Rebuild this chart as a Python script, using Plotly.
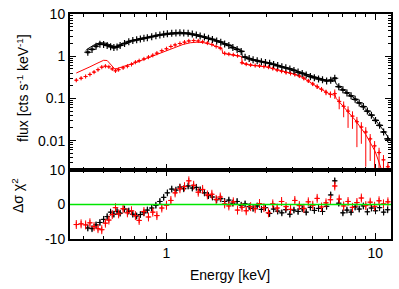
import plotly.graph_objects as go
from plotly.subplots import make_subplots

# ---------------- data ----------------
black_E = [0.42, 0.44, 0.46, 0.48, 0.50, 0.52, 0.54, 0.56, 0.58, 0.60,
           0.63, 0.66, 0.69, 0.72, 0.75, 0.78, 0.81, 0.85, 0.89, 0.93,
           0.97, 1.01, 1.06, 1.11, 1.16, 1.21, 1.27, 1.33, 1.39, 1.45,
           1.52, 1.59, 1.66, 1.74, 1.82, 1.90, 1.99, 2.08, 2.18, 2.28,
           2.38, 2.49, 2.60, 2.72, 2.85, 2.98, 3.12, 3.26, 3.41, 3.57,
           3.73, 3.90, 4.08, 4.27, 4.47, 4.67, 4.89, 5.11, 5.35, 5.59,
           5.85, 6.12, 6.40, 6.69, 7.00, 7.32, 7.66, 8.01, 8.38, 8.77,
           9.17, 9.59, 10.03, 10.49, 10.97, 11.47]
black_flux = [1.24, 1.45, 1.72, 1.93, 1.90, 1.80, 1.68, 1.60, 1.66, 1.80,
              2.00, 2.20, 2.35, 2.45, 2.55, 2.65, 2.75, 2.90, 3.05, 3.20,
              3.30, 3.40, 3.50, 3.55, 3.60, 3.55, 3.50, 3.35, 3.20, 3.00,
              2.85, 2.65, 2.50, 2.30, 2.15, 1.95, 1.80, 1.60, 1.45, 1.30,
              0.95, 0.88, 0.82, 0.78, 0.74, 0.71, 0.68, 0.64, 0.60, 0.56,
              0.53, 0.50, 0.46, 0.42, 0.39, 0.36, 0.33, 0.31, 0.29, 0.275,
              0.26, 0.27, 0.30, 0.19, 0.16, 0.135, 0.115, 0.095, 0.078, 0.064,
              0.050, 0.040, 0.030, 0.023, 0.016, 0.011]
black_resid = [-6.8, -7.0, -5.9, -5.2, -4.3, -3.5, -2.2, -2.8, -2.0, -2.5,
               -1.3, -1.9, -2.8, -3.3, -2.9, -2.4, -1.6, -1.0, -0.2, 0.9,
               2.1, 3.4, 4.5, 4.2, 5.1, 4.6, 5.4, 4.8, 5.0, 4.3,
               3.4, 2.6, 2.2, 1.4, 1.7, 0.9, 1.3, 0.4, 0.9, -0.2,
               0.2, -0.6, -1.1, -0.4, -1.4, -0.9, -2.6, -1.3, -1.9, -2.4,
               -1.5, -2.8, -1.6, -2.0, -1.2, -2.2, -0.8, -1.7, -1.1, -2.0,
               -0.5, 2.8, 6.9, 0.4, -2.4, -1.6, -2.2, -0.7, -1.3, -0.4,
               -2.1, -1.0, -1.8, -0.9, -2.2, -1.5]

red_E = [0.37, 0.39, 0.41, 0.43, 0.45, 0.47, 0.49, 0.51, 0.53, 0.55,
         0.57, 0.59, 0.62, 0.65, 0.68, 0.71, 0.74, 0.78, 0.82, 0.86,
         0.90, 0.95, 1.00, 1.05, 1.10, 1.16, 1.22, 1.28, 1.35, 1.42,
         1.49, 1.57, 1.65, 1.73, 1.81, 1.90, 1.99, 2.09, 2.19, 2.30,
         2.41, 2.53, 2.66, 2.79, 2.93, 3.08, 3.23, 3.39, 3.56, 3.74,
         3.93, 4.12, 4.33, 4.55, 4.78, 5.02, 5.27, 5.53, 5.81, 6.10,
         6.40, 6.72, 7.06, 7.41, 7.78, 8.17, 8.58, 9.01, 9.46, 9.93,
         10.43, 10.95, 11.50]
red_flux = [0.27, 0.30, 0.33, 0.37, 0.42, 0.48, 0.55, 0.58, 0.56, 0.50,
            0.45, 0.48, 0.53, 0.58, 0.64, 0.72, 0.78, 0.86, 0.95, 1.05,
            1.18, 1.35, 1.50, 1.70, 1.85, 2.00, 2.15, 2.30, 2.35, 2.30,
            2.20, 2.05, 1.90, 1.70, 1.55, 1.17, 1.12, 1.08, 1.03, 0.70,
            0.65, 0.62, 0.60, 0.59, 0.57, 0.55, 0.51, 0.47, 0.44, 0.41,
            0.39, 0.37, 0.34, 0.30, 0.26, 0.22, 0.19, 0.165, 0.14, 0.125,
            0.13, 0.085, 0.065, 0.050, 0.038, 0.028, 0.021, 0.016, 0.011, 0.0075,
            0.0052, 0.0035, 0.0024]
red_err_frac = [0.06, 0.06, 0.05, 0.05, 0.05, 0.05, 0.04, 0.04, 0.04, 0.05,
                0.05, 0.05, 0.04, 0.04, 0.04, 0.04, 0.04, 0.04, 0.04, 0.04,
                0.04, 0.04, 0.04, 0.04, 0.04, 0.04, 0.04, 0.04, 0.04, 0.04,
                0.04, 0.04, 0.04, 0.04, 0.04, 0.05, 0.05, 0.05, 0.05, 0.06,
                0.06, 0.06, 0.06, 0.06, 0.06, 0.07, 0.07, 0.07, 0.08, 0.08,
                0.08, 0.09, 0.09, 0.10, 0.10, 0.11, 0.12, 0.13, 0.15, 0.17,
                0.25, 0.35, 0.45, 0.60, 0.50, 0.75, 0.60, 0.85, 0.70, 0.90,
                0.80, 0.92, 0.95]
red_resid = [-5.8, -5.6, -5.9, -5.3, -6.4, -7.0, -7.3, -5.4, -4.5, -2.9,
             -0.9, -2.7, -1.2, -2.4, -1.8, -3.2, -4.6, -2.0, -3.6, -2.2,
             -3.2, -1.0, -0.2, 1.2, 3.4, 4.6, 5.2, 6.9, 5.6, 3.6,
             4.4, 2.8, 3.0, 1.5, 2.2, 0.2, -0.4, 0.8, -1.6, -0.8,
             -1.8, -0.6, -1.2, 0.3, -0.9, -2.4, 0.2, -1.0, 0.9, -0.6,
             -1.4, 1.2, -0.3, -1.1, 0.8, -0.2, 1.8, -0.7, 0.5, 1.4,
             5.4, 1.6, -0.4, 0.9, -0.8, 0.6, 1.9, -0.3, 0.7, -0.5,
             1.1, 0.2, 0.8]

black_model_E = [0.41, 0.42, 0.45, 0.48, 0.51, 0.54, 0.56, 0.58, 0.62, 0.68,
                 0.75, 0.85, 0.95, 1.05, 1.15, 1.25, 1.35, 1.45, 1.60, 1.75,
                 1.84, 1.86, 2.00, 2.20, 2.29, 2.31, 2.50, 3.00, 3.50, 4.00,
                 4.50, 5.00, 5.50, 6.00, 6.30, 6.40, 6.50, 7.00, 8.00, 9.00,
                 10.0, 11.0, 11.9]
black_model_flux = [1.35, 1.50, 1.85, 2.10, 2.05, 1.85, 1.72, 1.72, 1.95, 2.35,
                    2.65, 2.95, 3.15, 3.30, 3.40, 3.35, 3.20, 2.95, 2.60, 2.30,
                    2.15, 2.00, 1.80, 1.48, 1.33, 0.98, 0.89, 0.72, 0.59, 0.49,
                    0.40, 0.34, 0.29, 0.26, 0.25, 0.28, 0.22, 0.165, 0.098, 0.056,
                    0.031, 0.017, 0.0095]

red_model_E = [0.37, 0.40, 0.43, 0.46, 0.50, 0.52, 0.545, 0.565, 0.58, 0.62,
               0.70, 0.80, 0.90, 1.00, 1.10, 1.20, 1.30, 1.40, 1.50, 1.60,
               1.70, 1.84, 1.86, 2.00, 2.20, 2.29, 2.31, 2.50, 3.00, 3.50,
               4.00, 4.50, 5.00, 5.50, 6.00, 6.30, 6.40, 6.50, 7.00, 8.00,
               9.00, 10.0, 10.7]
red_model_flux = [0.40, 0.47, 0.56, 0.66, 0.80, 0.79, 0.62, 0.50, 0.51, 0.56,
                  0.69, 0.88, 1.10, 1.38, 1.65, 1.90, 2.08, 2.15, 2.10, 1.96,
                  1.76, 1.55, 1.17, 1.10, 1.02, 0.98, 0.68, 0.62, 0.56, 0.46,
                  0.39, 0.31, 0.22, 0.165, 0.13, 0.12, 0.125, 0.10, 0.066, 0.031,
                  0.014, 0.0055, 0.0021]

flux_ticks = [0.01, 0.1, 1, 10]
flux_tick_labels = ["0.01", "0.1", "1", "10"]
flux_minor = [0.002, 0.003, 0.004, 0.005, 0.006, 0.007, 0.008, 0.009,
              0.02, 0.03, 0.04, 0.05, 0.06, 0.07, 0.08, 0.09,
              0.2, 0.3, 0.4, 0.5, 0.6, 0.7, 0.8, 0.9,
              2, 3, 4, 5, 6, 7, 8, 9]
resid_ticks = [-10, 0, 10]
resid_tick_labels = ["-10", "0", "10"]
energy_ticks = [1, 10]
energy_tick_labels = ["1", "10"]
energy_minor = [0.4, 0.5, 0.6, 0.7, 0.8, 0.9, 2, 3, 4, 5, 6, 7, 8, 9]

# ---------------- figure ----------------
RED = "#ff0000"
BLK = "#000000"
FONT = "Liberation Sans, Arial, Helvetica, sans-serif"

fig = make_subplots(rows=2, cols=1, shared_xaxes=True, vertical_spacing=0,
                    row_heights=[0.694, 0.306])

red_hi = [f * min(e, 0.3) for f, e in zip(red_flux, red_err_frac)]
red_lo = [f * e for f, e in zip(red_flux, red_err_frac)]

# top panel: red data + model
fig.add_trace(go.Scatter(x=red_E, y=red_flux, mode="markers",
                         marker=dict(symbol="cross-thin", size=3, color=RED,
                                     line=dict(width=1, color=RED)),
                         error_y=dict(type="data", symmetric=False, array=red_hi,
                                      arrayminus=red_lo, color=RED, thickness=1, width=0),
                         error_x=dict(type="percent", value=1.5, color=RED,
                                      thickness=1, width=0),
                         showlegend=False), row=1, col=1)
fig.add_trace(go.Scatter(x=red_model_E, y=red_model_flux, mode="lines",
                         line=dict(color=RED, width=1), showlegend=False),
              row=1, col=1)
# top panel: black data + model
fig.add_trace(go.Scatter(x=black_model_E, y=black_model_flux, mode="lines",
                         line=dict(color=BLK, width=1), showlegend=False),
              row=1, col=1)
fig.add_trace(go.Scatter(x=black_E, y=black_flux, mode="markers",
                         marker=dict(symbol="cross-thin", size=5, color=BLK,
                                     line=dict(width=1.2, color=BLK)),
                         error_y=dict(type="percent", value=6, color=BLK,
                                      thickness=1.2, width=0),
                         error_x=dict(type="percent", value=2.4, color=BLK,
                                      thickness=1.8, width=0),
                         showlegend=False), row=1, col=1)

# bottom panel: residuals
fig.add_trace(go.Scatter(x=black_E, y=black_resid, mode="markers",
                         marker=dict(symbol="cross-thin", size=4, color=BLK,
                                     line=dict(width=1, color=BLK)),
                         error_y=dict(type="constant", value=1.0, color=BLK,
                                      thickness=1, width=0),
                         error_x=dict(type="percent", value=2.2, color=BLK,
                                      thickness=1, width=0),
                         showlegend=False), row=2, col=1)
fig.add_trace(go.Scatter(x=red_E, y=red_resid, mode="markers",
                         marker=dict(symbol="cross-thin", size=4, color=RED,
                                     line=dict(width=1, color=RED)),
                         error_y=dict(type="constant", value=1.3, color=RED,
                                      thickness=1, width=0),
                         error_x=dict(type="percent", value=2.2, color=RED,
                                      thickness=1, width=0),
                         showlegend=False), row=2, col=1)

fig.add_shape(type="line", xref="x2 domain", yref="y2", x0=0, x1=1, y0=0, y1=0,
              line=dict(color="#00e600", width=1.5), layer="above")

axis_common = dict(showline=True, linecolor=BLK, linewidth=2, mirror="allticks",
                   ticks="inside", ticklen=6, tickwidth=1.2, tickcolor=BLK,
                   showgrid=False, zeroline=False,
                   tickfont=dict(family=FONT, size=14, color=BLK))

fig.update_xaxes(type="log", range=[-0.462, 1.0755], tickmode="array",
                 tickvals=energy_ticks, ticktext=energy_tick_labels,
                 minor=dict(ticks="inside", ticklen=3, tickwidth=1, tickcolor=BLK,
                            tickmode="array", tickvals=energy_minor, showgrid=False),
                 **axis_common)
fig.update_xaxes(showticklabels=False, row=1, col=1)
fig.update_yaxes(type="log", range=[-2.70, 1.0], tickmode="array",
                 tickvals=flux_ticks, ticktext=flux_tick_labels,
                 minor=dict(ticks="inside", ticklen=3, tickwidth=1, tickcolor=BLK,
                            tickmode="array", tickvals=flux_minor, showgrid=False),
                 row=1, col=1, **axis_common)
fig.update_yaxes(range=[-10, 10], tickmode="array", tickvals=resid_ticks,
                 ticktext=resid_tick_labels, row=2, col=1, **axis_common)

L, R, T, B = 70, 6, 10, 50
W, H = 399, 289
pw, ph = W - L - R, H - T - B

def px(xp):
    return (xp - L) / pw

def py(yp):
    return (H - B - yp) / ph

ann_font = dict(family=FONT, size=14, color=BLK)
fig.add_annotation(text="flux [cts s<sup>-1</sup> keV<sup>-1</sup>]", textangle=-90,
                   xref="paper", yref="paper", x=px(22), y=py(85),
                   xanchor="center", yanchor="middle", showarrow=False, font=ann_font)
fig.add_annotation(text="Δσ χ<sup>2</sup>", textangle=-90,
                   xref="paper", yref="paper", x=px(17), y=py(195),
                   xanchor="center", yanchor="middle", showarrow=False, font=ann_font)
fig.add_annotation(text="Energy [keV]",
                   xref="paper", yref="paper", x=px(231), y=py(276),
                   xanchor="center", yanchor="middle", showarrow=False, font=ann_font)

fig.update_layout(width=W, height=H, margin=dict(l=L, r=R, t=T, b=B),
                  paper_bgcolor="white", plot_bgcolor="white",
                  font=dict(family=FONT, size=14, color=BLK), showlegend=False)

fig.write_html("out.html", config={"displayModeBar": False},
               post_script="document.body.style.margin='0';document.body.style.overflow='hidden';")
